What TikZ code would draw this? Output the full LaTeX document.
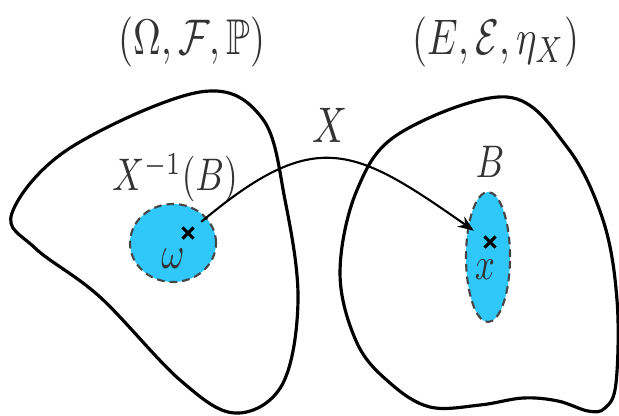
\documentclass[tikz,border=0pt]{standalone}
\usepackage{amsmath,amssymb}
\definecolor{setcyan}{RGB}{48,200,250}
\definecolor{setdash}{RGB}{70,70,70}
\usetikzlibrary{arrows.meta,shapes.misc}

\begin{document}
\begin{tikzpicture}[
  space/.style={draw,line width=0.9pt,line join=round},
  event/.style={draw=setdash,fill=setcyan,line width=0.6pt,dash pattern=on 2.2pt off 1.4pt},
  pt/.style={cross out,draw,line width=0.9pt,minimum size=0.08cm,inner sep=0pt},
  lbl/.style={text=black!80,inner sep=0pt,yscale=1.3,transform shape},
  title/.style={lbl,font=\fontsize{11}{13}\selectfont}
]
  \useasboundingbox (0,0) rectangle (6.19,4.15);

  % sample space
  \draw[space] plot[smooth cycle,tension=0.6] coordinates {
    (0.12,2.02) (0.70,2.67) (2.00,3.23) (2.62,2.97) (2.85,2.15) (2.98,1.15)
    (2.82,0.30) (2.35,0.02) (1.80,0.35) (1.00,1.18) (0.35,1.67)};
  \node[title] (omspace) at (1.92,3.73) {$(\Omega,\mathcal{F},\mathbb{P})$};
  \draw[event] (1.73,1.72) ellipse [x radius=0.43,y radius=0.39];
  \node[lbl] (preimg) at (1.75,2.37) {$X^{-1}(B)$};
  \node[pt] (om) at (1.88,1.82) {};
  \node[lbl] (omlbl) at (1.73,1.56) {$\omega$};

  % state space
  \draw[space] plot[smooth cycle,tension=0.6] coordinates {
    (3.40,1.42) (3.57,2.25) (4.00,2.82) (5.07,3.18) (5.67,2.68) (6.03,1.95)
    (6.17,1.15) (6.16,0.32) (6.05,0.07) (5.88,0.04) (5.58,0.14) (5.23,0.17)
    (4.80,0.10) (4.30,0.08) (3.90,0.32) (3.57,0.72)};
  \node[title] (espace) at (4.96,3.73) {$(E,\mathcal{E},\eta_X)$};
  \draw[event] (4.88,1.58) ellipse [x radius=0.22,y radius=0.65];
  \node[lbl] (blbl) at (4.90,2.53) {$B$};
  \node[pt] (xpt) at (4.90,1.73) {};
  \node[lbl] (xlbl) at (4.85,1.45) {$x$};

  % the map
  \draw[line width=0.6pt,-{Stealth[length=4.5pt,width=3.5pt]},shorten <=0.1cm,shorten >=0.13cm]
    (om) to[out=40,in=145,looseness=1.4] (xpt);
  \node[lbl,font=\fontsize{10.5}{12}\selectfont] (map) at (3.30,2.90) {$X$};
\end{tikzpicture}
\end{document}
